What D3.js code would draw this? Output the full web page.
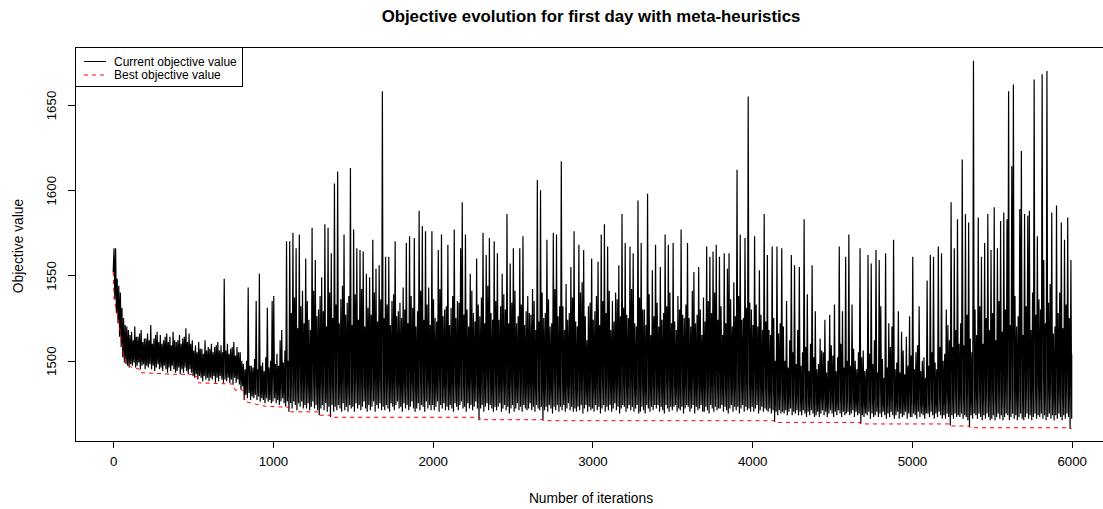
<!DOCTYPE html>
<html><head><meta charset="utf-8">
<script src="https://cdn.jsdelivr.net/npm/d3@7"></script>
<style>body{margin:0;background:#fff;} svg{display:block;font-family:"Liberation Sans",Arial,sans-serif;}</style>
</head><body><svg id="chart" width="1103" height="509"></svg>
<script>
const titleText = "Objective evolution for first day with meta-heuristics";
const xLabel = "Number of iterations";
const yLabel = "Objective value";
const xTicks = [0, 1000, 2000, 3000, 4000, 5000, 6000];
const yTicks = [1500, 1550, 1600, 1650];
const legendLabels = ["Current objective value", "Best objective value"];

// current objective value, read per window of 10 iterations (0..6000):
// lowest value in the window, then highest value in the window
const windowSize = 10;
const windowMin = [
1552,1536,1528,1522,1514,1508,1502,1499,1498,1497,
1496,1498,1497,1499,1496,1497,1499,1495,1497,1498,
1495,1497,1496,1498,1495,1497,1494,1496,1498,1495,
1496,1494,1497,1495,1493,1496,1494,1497,1495,1493,
1494,1496,1492,1495,1493,1496,1494,1492,1495,1493,
1491,1490,1492,1489,1491,1490,1488,1491,1489,1490,
1488,1490,1489,1491,1487,1490,1488,1491,1489,1487,
1489,1488,1490,1487,1489,1486,1490,1487,1489,1486,
1483,1485,1477,1480,1478,1481,1477,1479,1478,1480,
1477,1479,1476,1478,1477,1475,1478,1476,1477,1475,
1476,1478,1475,1477,1474,1476,1478,1475,1473,1476,
1470,1475,1472,1476,1474,1471,1475,1473,1476,1472,
1474,1472,1475,1471,1473,1476,1472,1474,1471,1468,
1472,1474,1471,1475,1470,1473,1467,1474,1470,1473,
1471,1474,1472,1470,1475,1471,1473,1470,1474,1472,
1473,1470,1475,1472,1474,1471,1473,1476,1472,1470,
1474,1471,1473,1476,1470,1474,1472,1475,1471,1473,
1471,1474,1472,1470,1475,1473,1471,1474,1476,1472,
1473,1470,1475,1472,1474,1471,1473,1476,1472,1470,
1472,1475,1471,1474,1473,1470,1476,1472,1474,1471,
1474,1471,1473,1476,1470,1474,1472,1475,1471,1473,
1471,1474,1472,1470,1475,1473,1471,1474,1476,1472,
1473,1470,1475,1472,1474,1471,1473,1476,1472,1465,
1472,1474,1470,1473,1475,1471,1474,1472,1470,1473,
1471,1473,1475,1470,1472,1474,1471,1473,1469,1472,
1474,1470,1472,1475,1471,1473,1470,1474,1472,1471,
1472,1475,1471,1473,1470,1474,1472,1471,1473,1465,
1471,1473,1470,1474,1472,1469,1473,1471,1474,1470,
1473,1471,1474,1470,1472,1475,1471,1473,1470,1472,
1470,1473,1471,1474,1469,1472,1474,1470,1473,1471,
1472,1470,1474,1471,1473,1469,1472,1474,1470,1473,
1471,1474,1470,1472,1475,1471,1473,1469,1472,1474,
1473,1470,1472,1474,1471,1473,1470,1472,1474,1469,
1470,1473,1471,1469,1474,1472,1470,1473,1471,1474,
1472,1474,1470,1473,1471,1469,1474,1472,1470,1473,
1471,1473,1474,1470,1472,1471,1473,1469,1472,1474,
1473,1470,1472,1474,1469,1473,1471,1472,1474,1470,
1470,1473,1471,1469,1474,1472,1470,1473,1471,1472,
1472,1474,1470,1473,1471,1469,1472,1474,1470,1473,
1471,1473,1469,1472,1474,1470,1473,1471,1472,1470,
1473,1470,1472,1474,1469,1471,1473,1470,1472,1471,
1470,1472,1469,1471,1464,1470,1468,1471,1469,1470,
1469,1471,1468,1470,1472,1468,1470,1469,1471,1468,
1470,1468,1471,1469,1467,1470,1468,1471,1469,1467,
1468,1470,1467,1469,1471,1468,1470,1467,1469,1471,
1469,1467,1470,1468,1471,1469,1467,1470,1468,1469,
1470,1468,1469,1471,1467,1470,1468,1469,1463,1468,
1467,1469,1468,1470,1466,1469,1467,1468,1470,1467,
1469,1467,1470,1468,1466,1469,1467,1470,1468,1466,
1468,1470,1466,1469,1467,1468,1470,1466,1469,1467,
1467,1469,1468,1466,1470,1467,1469,1468,1466,1469,
1469,1467,1470,1468,1466,1469,1467,1470,1468,1466,
1468,1466,1469,1467,1462,1468,1466,1469,1467,1468,
1467,1469,1466,1468,1467,1465,1461,1468,1466,1469,
1468,1466,1469,1467,1465,1468,1466,1469,1467,1465,
1466,1468,1465,1467,1469,1466,1468,1465,1467,1469,
1468,1465,1467,1469,1466,1468,1465,1467,1469,1466,
1465,1467,1469,1466,1468,1465,1467,1469,1466,1468,
1467,1469,1466,1468,1465,1467,1469,1466,1468,1465,
1468,1466,1469,1467,1465,1468,1466,1469,1467,1460,
1466
];
const windowMax = [
1566,1566,1548,1544,1540,1531,1525,1521,1520,1518,
1515,1517,1512,1520,1514,1514,1516,1518,1511,1513,
1513,1516,1512,1521,1510,1513,1515,1517,1511,1515,
1510,1512,1514,1516,1511,1514,1509,1517,1512,1511,
1512,1515,1510,1513,1514,1519,1511,1516,1510,1512,
1506,1509,1505,1511,1507,1507,1504,1512,1506,1508,
1507,1510,1505,1508,1509,1511,1506,1509,1505,1548,
1506,1510,1504,1507,1508,1511,1503,1508,1505,1505,
1500,1498,1495,1500,1543,1497,1497,1496,1501,1535,
1495,1551,1497,1499,1494,1502,1531,1496,1500,1535,
1538,1498,1504,1497,1512,1518,1499,1506,1570,1500,
1570,1528,1575,1537,1566,1519,1574,1532,1541,1522,
1560,1535,1524,1518,1578,1541,1559,1526,1530,1538,
1549,1529,1580,1520,1578,1540,1563,1525,1604,1533,
1611,1522,1536,1544,1574,1527,1534,1538,1613,1521,
1577,1539,1566,1524,1565,1542,1564,1520,1551,1531,
1549,1527,1571,1540,1554,1523,1556,1536,1658,1525,
1561,1533,1561,1521,1535,1539,1570,1526,1529,1534,
1525,1543,1530,1569,1522,1573,1538,1531,1572,1520,
1529,1588,1541,1579,1524,1576,1533,1543,1521,1576,
1536,1525,1523,1565,1542,1574,1526,1530,1532,1568,
1521,1531,1538,1577,1525,1535,1534,1566,1593,1527,
1574,1530,1520,1551,1541,1528,1523,1560,1533,1526,
1537,1575,1522,1562,1544,1572,1528,1524,1570,1535,
1563,1524,1532,1551,1539,1530,1586,1522,1557,1534,
1566,1541,1522,1526,1566,1533,1573,1521,1529,1538,
1528,1527,1542,1535,1518,1606,1523,1600,1540,1525,
1528,1571,1536,1520,1522,1575,1542,1574,1526,1532,
1617,1532,1518,1545,1524,1528,1555,1537,1576,1523,
1520,1568,1540,1546,1565,1526,1512,1532,1534,1560,
1524,1529,1538,1558,1521,1574,1535,1580,1528,1567,
1541,1518,1535,1523,1540,1536,1556,1526,1586,1531,
1569,1527,1525,1567,1542,1563,1522,1520,1594,1537,
1569,1530,1530,1521,1598,1539,1515,1553,1526,1568,
1534,1520,1555,1524,1528,1574,1532,1568,1540,1522,
1569,1523,1518,1538,1530,1577,1527,1525,1533,1569,
1525,1520,1541,1552,1522,1527,1555,1530,1515,1537,
1523,1567,1535,1561,1528,1564,1540,1568,1524,1561,
1532,1515,1563,1522,1554,1563,1536,1520,1546,1526,
1612,1538,1574,1524,1525,1572,1531,1655,1534,1530,
1521,1573,1533,1520,1553,1527,1518,1586,1523,1562,
1518,1515,1567,1525,1500,1567,1516,1522,1566,1520,
1500,1535,1496,1512,1562,1505,1556,1498,1518,1555,
1497,1505,1583,1508,1539,1494,1510,1556,1502,1529,
1495,1498,1513,1506,1505,1524,1493,1500,1527,1509,
1503,1533,1494,1502,1567,1510,1529,1496,1561,1500,
1574,1497,1533,1507,1500,1495,1505,1566,1502,1506,
1494,1495,1562,1504,1557,1498,1512,1565,1493,1559,
1532,1501,1490,1563,1496,1522,1508,1520,1571,1495,
1499,1529,1493,1517,1506,1492,1514,1497,1526,1503,
1561,1495,1505,1509,1532,1494,1500,1502,1490,1547,
1497,1562,1505,1561,1499,1495,1567,1508,1563,1500,
1504,1530,1521,1512,1593,1508,1566,1518,1583,1510,
1522,1618,1509,1586,1527,1581,1513,1505,1676,1530,
1515,1584,1532,1561,1510,1569,1525,1586,1518,1565,
1528,1590,1512,1566,1535,1582,1517,1587,1530,1583,
1658,1521,1614,1662,1538,1520,1526,1589,1623,1515,
1586,1532,1585,1588,1518,1540,1665,1527,1573,1536,
1530,1668,1559,1522,1670,1534,1545,1587,1516,1520,
1591,1528,1540,1581,1519,1571,1533,1584,1525,1559,
1504
];

// best objective value found so far (step changes)
const bestIterations = [0,6,33,65,75,106,165,169,377,500,503,530,534,753,763,815,826,941,1087,1105,1108,1290,1296,1365,1369,2295,2297,2690,2693,4140,4143,4673,4676,5245,5248,5361,5364,5990,6000];
const bestValues = [1552,1536,1524,1503,1499,1496.5,1495,1493,1492,1492,1490.6,1490.6,1487,1486.3,1482.8,1482.8,1476,1473.4,1472.7,1472.7,1470,1470,1468,1468,1466.8,1466.8,1465.4,1465.4,1464.8,1464.8,1463.8,1463.8,1462.9,1462.9,1461.7,1461.7,1460.7,1460.7,1460];

const svg = d3.select("#chart");
svg.append("rect").attr("width", 1103).attr("height", 509).attr("fill", "#fff");

const x = d3.scaleLinear().domain([0, 6000]).range([113.2, 1071.7]);
const y = d3.scaleLinear().domain([1500, 1650]).range([360.7, 105]);
const box = {left: 75.5, top: 47.5, right: 1110, bottom: 441};

// current line: passes through each window's low and high
const current = [];
windowMin.forEach((v, i) => {
  current.push({it: i * windowSize, v: v});
  current.push({it: Math.min(6000, i * windowSize + windowSize / 2), v: windowMax[i]});
});
svg.append("path").datum(current)
  .attr("fill", "none").attr("stroke", "#000").attr("stroke-width", 1.2)
  .attr("d", d3.line().x(d => x(d.it)).y(d => y(d.v)));

// best line
const best = bestIterations.map((it, i) => ({it, v: bestValues[i]}));
svg.append("path").datum(best)
  .attr("fill", "none").attr("stroke", "#ff0000").attr("stroke-width", 1)
  .attr("stroke-dasharray", "4,4")
  .attr("d", d3.line().x(d => x(d.it)).y(d => y(d.v)));

// box
svg.append("rect").attr("x", box.left).attr("y", box.top)
  .attr("width", box.right - box.left).attr("height", box.bottom - box.top)
  .attr("fill", "none").attr("stroke", "#000").attr("stroke-width", 1)
  .attr("shape-rendering", "crispEdges");

// x axis
const xAxis = svg.append("g").attr("transform", `translate(0,${box.bottom})`)
  .call(d3.axisBottom(x).tickValues(xTicks).tickSize(7).tickPadding(9).tickFormat(d3.format("d")));
xAxis.select(".domain").remove();
xAxis.selectAll("line").attr("stroke", "#000").attr("shape-rendering", "crispEdges");
xAxis.selectAll("text").attr("font-size", "13.3px").attr("fill", "#000")
  .attr("font-family", "Liberation Sans, Arial, sans-serif");

// y axis
const yAxis = svg.append("g").attr("transform", `translate(${box.left},0)`)
  .call(d3.axisLeft(y).tickValues(yTicks).tickSize(8).tickFormat(d3.format("d")));
yAxis.select(".domain").remove();
yAxis.selectAll("line").attr("stroke", "#000").attr("shape-rendering", "crispEdges");
yAxis.selectAll("text").attr("font-size", "13.3px").attr("fill", "#000")
  .attr("font-family", "Liberation Sans, Arial, sans-serif")
  .attr("x", null).attr("dy", null)
  .attr("text-anchor", "middle")
  .attr("transform", "translate(-20,0) rotate(-90)");

// title and axis labels
svg.append("text").attr("x", 591).attr("y", 21.5).attr("text-anchor", "middle")
  .attr("font-size", "16.8px").attr("font-weight", "bold").text(titleText);
svg.append("text").attr("x", 591).attr("y", 503).attr("text-anchor", "middle")
  .attr("font-size", "13.8px").text(xLabel);
svg.append("text").attr("transform", "translate(22.5,246) rotate(-90)")
  .attr("text-anchor", "middle").attr("font-size", "13.8px").text(yLabel);

// legend
const lg = svg.append("g");
lg.append("rect").attr("x", 75.5).attr("y", 47.5).attr("width", 166.5).attr("height", 38.5)
  .attr("fill", "#fff").attr("stroke", "#000").attr("shape-rendering", "crispEdges");
const legendStyles = [{c: "#000", dash: null}, {c: "#ff0000", dash: "4,4"}];
legendLabels.forEach((lab, i) => {
  const yy = 61.5 + i * 13.5;
  lg.append("line").attr("x1", 84).attr("x2", 106).attr("y1", yy).attr("y2", yy)
    .attr("stroke", legendStyles[i].c).attr("stroke-dasharray", legendStyles[i].dash);
  lg.append("text").attr("x", 114).attr("y", yy + 4.2).attr("font-size", "12px").text(lab);
});
</script></body></html>
